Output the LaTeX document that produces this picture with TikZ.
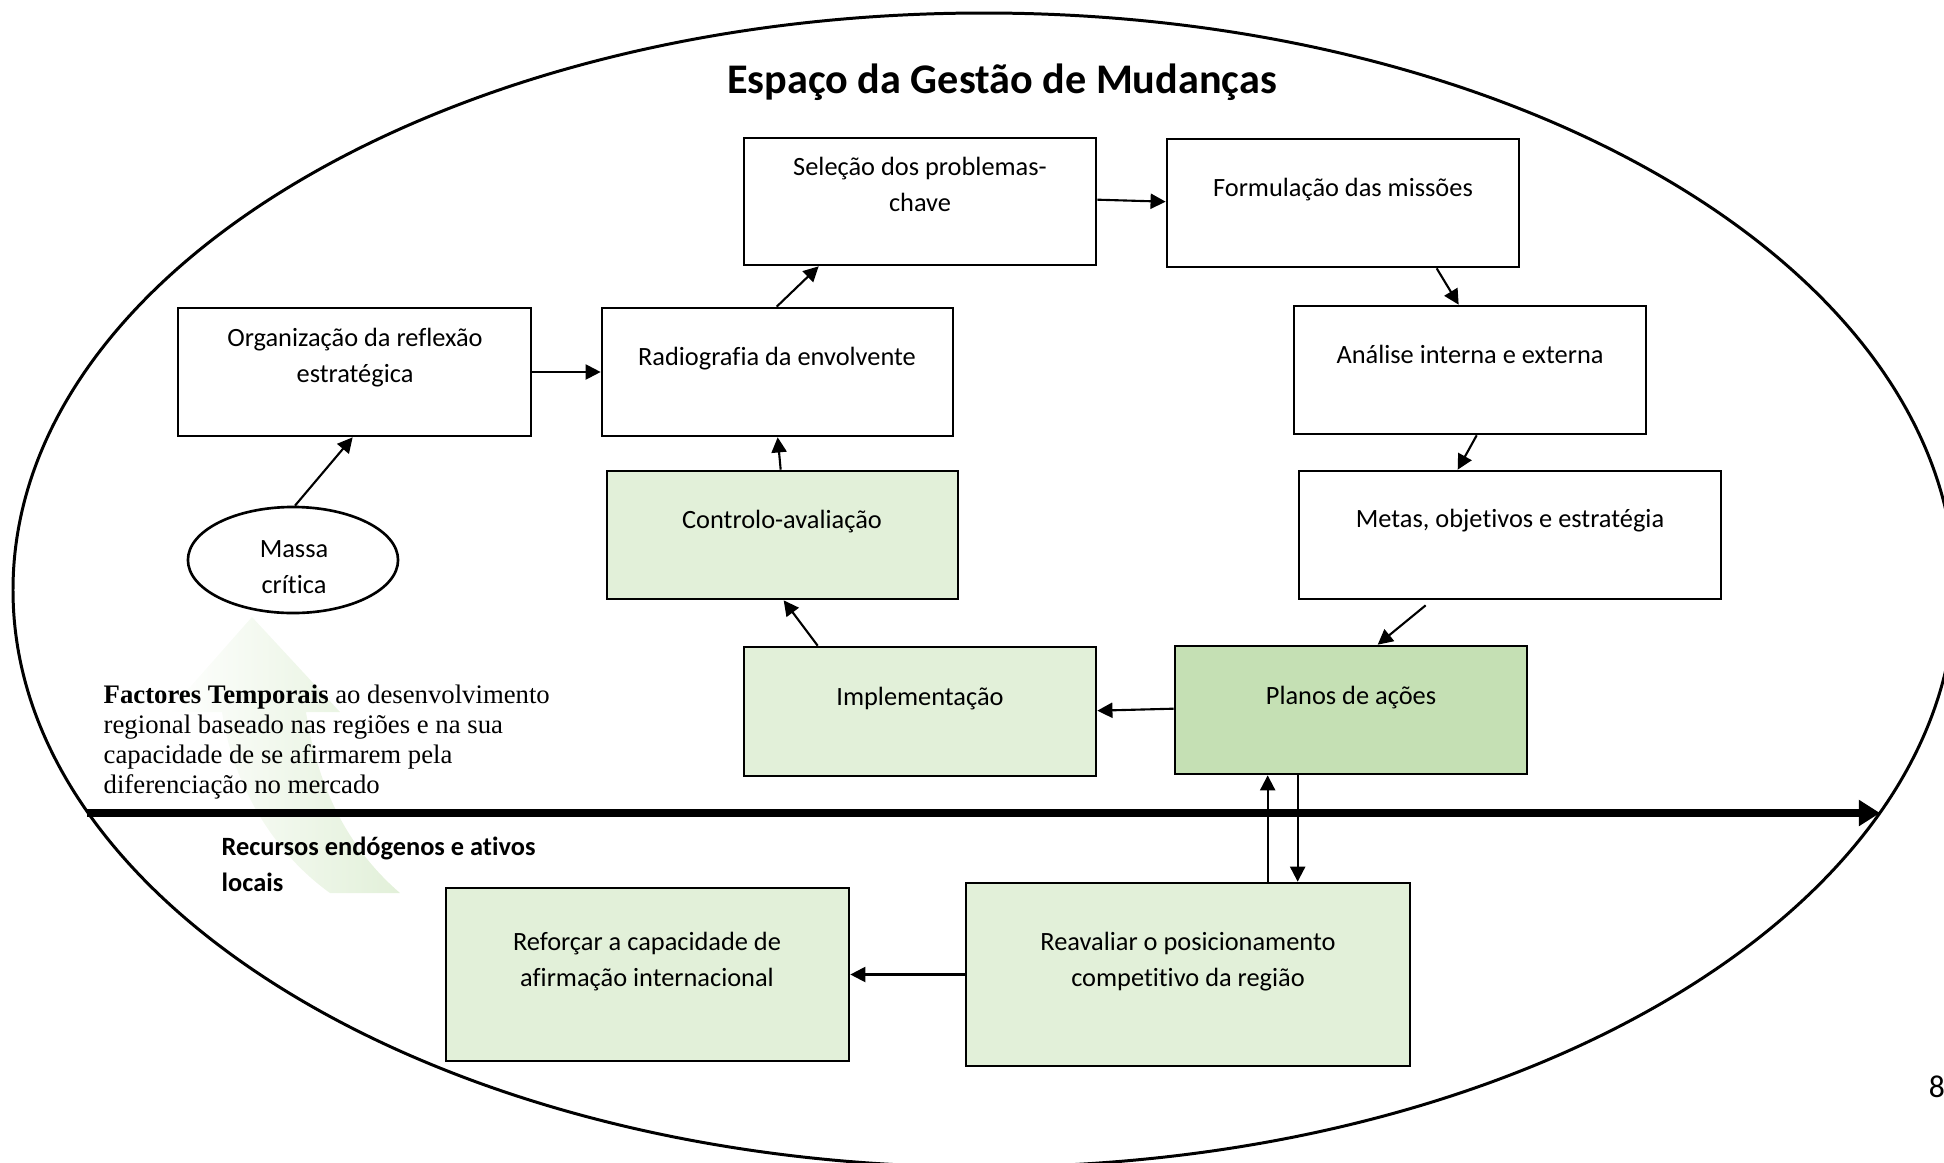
\documentclass[tikz,border=0pt]{standalone}
\usepackage{fontspec}
\setmainfont{Carlito}[RawFeature={-liga;-clig;-dlig;-calt}]
\newfontfamily\timesfont{Liberation Serif}
\usetikzlibrary{arrows.meta,fit,calc,shapes.geometric}
\definecolor{lgreen}{HTML}{E2F0D9}
\definecolor{mgreen}{HTML}{C5E0B4}
\newcommand\mytab[2]{\begin{tabular}[t]{@{}#1@{}}#2\end{tabular}}
\begin{document}
\begin{tikzpicture}[x=0.01cm,y=-0.01cm,
  box/.style={draw,line width=0.75pt,inner sep=0pt,fill=white},
  gbox/.style={box,fill=lgreen},
  mbox/.style={box,fill=mgreen},
  txt/.style={inner sep=0pt,anchor=base,font=\fontsize{7.5}{10.5}\selectfont},
  arr/.style={-{Triangle[length=4.3pt,width=4.3pt]},line width=0.6pt},
  bigarr/.style={-{Triangle[length=6pt,width=7.1pt]},line width=2.3pt}]
\useasboundingbox (0,0) rectangle (1944,1163);
\clip (0,0) rectangle (1944,1163);
% outer ellipse
\draw[line width=0.85pt] (984,590) ellipse [x radius=971,y radius=577];
% faded green arrow
\shade[left color=white,right color=lgreen]
  (252,617) -- (340,712) -- (306,712)
  .. controls (318,790) and (350,850) .. (400,893)
  -- (330,893)
  .. controls (270,850) and (232,780) .. (222,712)
  -- (168,712) -- cycle;
% title
\node[inner sep=0pt,anchor=base,font=\bfseries\fontsize{12}{14}\selectfont] (title) at (1002,93) {Espaço da Gestão de Mudanças};
% boxes
\node[box,fit={(744,138) (1096,265)}] (sel) {};
\node[box,fit={(1167,139) (1519,267)}] (form) {};
\node[box,fit={(178,308) (531,436)}] (org) {};
\node[box,fit={(602,308) (953,436)}] (rad) {};
\node[box,fit={(1294,306) (1646,434)}] (ana) {};
\node[gbox,fit={(607,471) (958,599)}] (ctrl) {};
\node[box,fit={(1299,471) (1721,599)}] (metas) {};
\node[gbox,fit={(744,647) (1096,776)}] (impl) {};
\node[mbox,fit={(1175,646) (1527,774)}] (plan) {};
\node[gbox,fit={(446,888) (849,1061)}] (ref) {};
\node[gbox,fit={(966,883) (1410,1066)}] (reav) {};
\node[draw,ellipse,line width=0.75pt,inner sep=0pt,minimum width=2.10cm,minimum height=1.06cm,fill=white] (massa) at (293,560) {};
% texts
\node[txt] (t-sel) at (920,175) {\mytab{c}{Seleção dos problemas-\\chave}};
\node[txt] (t-form) at (1343,196) {Formulação das missões};
\node[txt] (t-org) at (355,346) {\mytab{c}{Organização da reflexão\\estratégica}};
\node[txt] (t-rad) at (777,365) {Radiografia da envolvente};
\node[txt] (t-ana) at (1470,363) {Análise interna e externa};
\node[txt] (t-ctrl) at (782,528) {Controlo-avaliação};
\node[txt] (t-metas) at (1510,527) {Metas, objetivos e estratégia};
\node[txt] (t-impl) at (920,705) {Implementação};
\node[txt] (t-plan) at (1351,704) {Planos de ações};
\node[txt] (t-massa) at (294,557) {\mytab{c}{Massa\\crítica}};
\node[txt] (t-ref) at (647,950) {\mytab{c}{Reforçar a capacidade de\\afirmação internacional}};
\node[txt] (t-reav) at (1188,950) {\mytab{c}{Reavaliar o posicionamento\\competitivo da região}};
\node[inner sep=0pt,anchor=base west,font=\timesfont\fontsize{7.6}{8.53}\selectfont] (t-fac) at (103,703)
  {\mytab{l}{\textbf{Factores Temporais} ao desenvolvimento\\regional baseado nas regiões e na sua\\capacidade de se afirmarem pela\\diferenciação no mercado}};
\node[inner sep=0pt,anchor=base west,font=\bfseries\fontsize{7.5}{10.5}\selectfont] (t-rec) at (221,855)
  {\mytab{l}{Recursos endógenos e ativos\\locais}};
\node[inner sep=0pt,anchor=base,font=\fontsize{9}{11}\selectfont] (pnum) at (1937,1097) {8};
% time axis
\coordinate (ax-start) at (87,813);
\coordinate (ax-end) at (1880,813);
\draw[bigarr] (ax-start) -- (ax-end);
% connectors
\draw[arr] ($(massa.north)+(2,0)$) -- ($(org.south west)+(176,0)$);
\draw[arr] (org.east) -- (rad.west);
\draw[arr] ($(rad.north west)+(176,0)$) -- ($(sel.south west)+(76,0)$);
\draw[arr] ($(sel.north east)+(0,63)$) -- ($(form.north west)+(0,64)$);
\draw[arr] ($(form.south west)+(271,0)$) -- ($(ana.north west)+(166,0)$);
\draw[arr] ($(ana.south west)+(184,0)$) -- ($(metas.north west)+(160,0)$);
\draw[arr] ($(metas.south west)+(128,5)$) -- ($(plan.north west)+(204,0)$);
\draw[arr] ($(plan.north west)+(0,64)$) -- ($(impl.north east)+(0,65)$);
\draw[arr] ($(impl.north west)+(75,0)$) -- ($(ctrl.south west)+(178,0)$);
\draw[arr] ($(ctrl.north west)+(175,0)$) -- ($(rad.south west)+(177,0)$);
\draw[arr] ($(reav.north west)+(303,0)$) -- ($(plan.south west)+(94,0)$);
\draw[arr] ($(plan.south west)+(124,0)$) -- ($(reav.north west)+(333,0)$);
\draw[arr] (reav.west) -- (ref.east);
\end{tikzpicture}
\end{document}
